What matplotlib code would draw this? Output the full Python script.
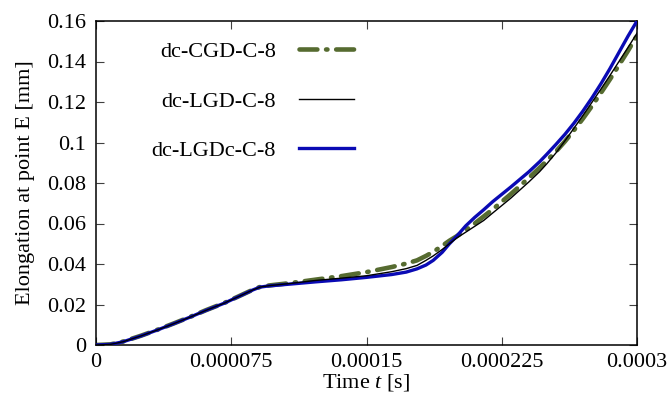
import numpy as np
import matplotlib
matplotlib.use("Agg")
import matplotlib.pyplot as plt
from matplotlib.ticker import FixedLocator, FixedFormatter

# time samples, in microseconds
t_us = [0, 8, 15, 25, 34, 43, 52, 61, 71, 80, 87, 91, 96, 108, 122, 136, 150,
        164, 172, 178, 183, 187, 192, 196, 200, 205, 210, 215, 220, 230, 240,
        246, 250, 255, 260, 265, 270, 275, 280, 285, 290, 295, 300]

# elongation at point E [mm]
cgd = [0, 0.0003, 0.0017, 0.0046, 0.0075, 0.0106, 0.0138, 0.0172, 0.0207,
       0.0244, 0.0273, 0.0287, 0.0294, 0.0306, 0.0323, 0.0340, 0.0360, 0.0385,
       0.0402, 0.0418, 0.0440, 0.0460, 0.0490, 0.0515, 0.0537, 0.0568, 0.0600,
       0.0635, 0.0670, 0.0745, 0.0825, 0.0875, 0.0910, 0.0955, 0.1005, 0.1060,
       0.1118, 0.1180, 0.1245, 0.1312, 0.1382, 0.1453, 0.1528]
lgd = [0, 0.0003, 0.0016, 0.0045, 0.0074, 0.0105, 0.0137, 0.0171, 0.0206,
       0.0243, 0.0272, 0.0286, 0.0293, 0.0304, 0.0319, 0.0330, 0.0342, 0.0362,
       0.0377, 0.0393, 0.0418, 0.0440, 0.0472, 0.0500, 0.0528, 0.0557, 0.0586,
       0.0615, 0.0652, 0.0725, 0.0805, 0.0856, 0.0895, 0.0948, 0.1008, 0.1070,
       0.1133, 0.1198, 0.1264, 0.1331, 0.1400, 0.1469, 0.1540]
lgdc = [0, 0.0003, 0.0016, 0.0045, 0.0074, 0.0105, 0.0137, 0.0171, 0.0206,
        0.0243, 0.0272, 0.0286, 0.0292, 0.0301, 0.0312, 0.0322, 0.0334, 0.0348,
        0.0360, 0.0376, 0.0395, 0.0418, 0.0458, 0.0500, 0.0537, 0.0588, 0.0630,
        0.0668, 0.0708, 0.0780, 0.0855, 0.0905, 0.0942, 0.0990, 0.1040, 0.1095,
        0.1155, 0.1220, 0.1290, 0.1365, 0.1445, 0.1525, 0.1600]

labels = ["dc-CGD-C-8", "dc-LGD-C-8", "dc-LGDc-C-8"]

x_ticks = [0, 0.000075, 0.00015, 0.000225, 0.0003]
x_ticklabels = ["0", "0.000075", "0.00015", "0.000225", "0.0003"]
y_ticks = [0, 0.02, 0.04, 0.06, 0.08, 0.1, 0.12, 0.14, 0.16]
y_ticklabels = ["0", "0.02", "0.04", "0.06", "0.08", "0.1", "0.12", "0.14", "0.16"]

fs = 16
plt.rcParams["font.family"] = ["Liberation Serif", "DejaVu Serif"]
plt.rcParams["mathtext.fontset"] = "custom"
plt.rcParams["mathtext.it"] = "Liberation Serif:italic"
plt.rcParams["mathtext.rm"] = "Liberation Serif"
plt.rcParams["font.size"] = fs

t = np.array(t_us) * 1e-6

fig = plt.figure(figsize=(6.69, 4.03), dpi=100)
ax = fig.add_axes([96 / 669, 1 - 345 / 403, 541 / 669, 324 / 403])

l_cgd, = ax.plot(t, cgd, color="#566b30", lw=3.3, dash_capstyle="round",
                 linestyle=(0, (3.9, 1.9, 0.3, 1.9)), zorder=2)
l_lgdc, = ax.plot(t, lgdc, color="#0a0ab4", lw=2.4, zorder=3)
l_lgd, = ax.plot(t, lgd, color="black", lw=1.0, zorder=4)

ax.set_xlim(0, 0.0003)
ax.set_ylim(0, 0.16)
ax.xaxis.set_major_locator(FixedLocator(x_ticks))
ax.xaxis.set_major_formatter(FixedFormatter(x_ticklabels))
ax.yaxis.set_major_locator(FixedLocator(y_ticks))
ax.yaxis.set_major_formatter(FixedFormatter(y_ticklabels))
ax.tick_params(direction="in", length=5.8, width=0.8, color="#404040",
               top=True, right=True, labelsize=fs)
ax.tick_params(axis="x", pad=6)
ax.tick_params(axis="y", pad=7)
for s in ax.spines.values():
    s.set_linewidth(1.1)

ax.set_xlabel("Time $t$ [s]", labelpad=0)
ax.set_ylabel("Elongation at point E [mm]", labelpad=9)

ax.legend([l_cgd, l_lgd, l_lgdc], labels, loc="center right",
          bbox_to_anchor=(0.477, 0.752), frameon=False, markerfirst=False,
          handlelength=2.48, handletextpad=1.04, labelspacing=1.3,
          borderpad=0, borderaxespad=0, fontsize=fs)

fig.savefig("out.png", dpi=100)
